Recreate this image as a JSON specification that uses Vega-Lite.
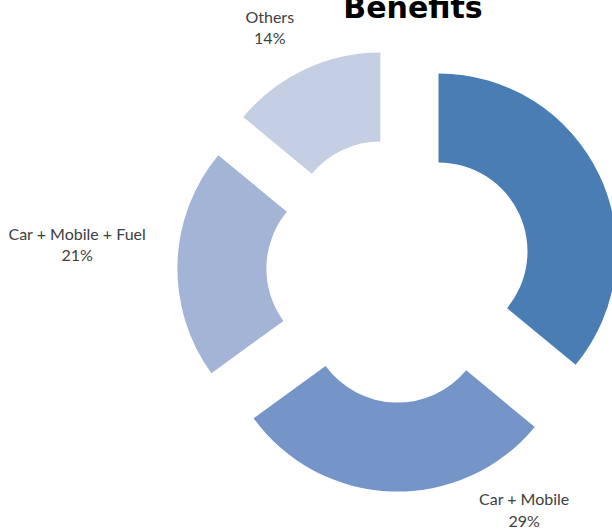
{
  "$schema": "https://vega.github.io/schema/vega-lite/v6.json",
  "width": 400,
  "height": 400,
  "autosize": {"type": "none"},
  "padding": {"left": 199, "top": 70, "right": 13, "bottom": 59},
  "background": "white",
  "data": {"values": [
    {"name": "Car", "share": 0.36, "order": 1},
    {"name": "Car + Mobile", "share": 0.29, "order": 2},
    {"name": "Car + Mobile + Fuel", "share": 0.21, "order": 3},
    {"name": "Others", "share": 0.14, "order": 4}
  ]},
  "config": {"view": {"stroke": null}},
  "layer": [
    {
      "transform": [{"stack": "share", "groupby": [], "sort": [{"field": "order"}], "as": ["t0", "t1"]}, {"filter": "datum.name === 'Car'"}],
      "mark": {"type": "arc", "outerRadius": 178, "innerRadius": 89, "xOffset": 39.5, "yOffset": -18.6},
      "encoding": {
        "theta": {"field": "t0", "type": "quantitative", "scale": {"domain": [0, 1]}},
        "theta2": {"field": "t1"},
        "color": {"field": "name", "type": "nominal", "legend": null, "scale": {"domain": ["Car", "Car + Mobile", "Car + Mobile + Fuel", "Others"], "range": ["#4A7DB4", "#7594C7", "#A3B4D6", "#C5CFE4"]}}
      }
    },
    {
      "transform": [{"stack": "share", "groupby": [], "sort": [{"field": "order"}], "as": ["t0", "t1"]}, {"filter": "datum.name === 'Car + Mobile'"}],
      "mark": {"type": "arc", "outerRadius": 178, "innerRadius": 89, "xOffset": -1.4, "yOffset": 43.6},
      "encoding": {
        "theta": {"field": "t0", "type": "quantitative", "scale": {"domain": [0, 1]}},
        "theta2": {"field": "t1"},
        "color": {"field": "name", "type": "nominal", "legend": null}
      }
    },
    {
      "transform": [{"stack": "share", "groupby": [], "sort": [{"field": "order"}], "as": ["t0", "t1"]}, {"filter": "datum.name === 'Car + Mobile + Fuel'"}],
      "mark": {"type": "arc", "outerRadius": 178, "innerRadius": 89, "xOffset": -43.6, "yOffset": -1.4},
      "encoding": {
        "theta": {"field": "t0", "type": "quantitative", "scale": {"domain": [0, 1]}},
        "theta2": {"field": "t1"},
        "color": {"field": "name", "type": "nominal", "legend": null}
      }
    },
    {
      "transform": [{"stack": "share", "groupby": [], "sort": [{"field": "order"}], "as": ["t0", "t1"]}, {"filter": "datum.name === 'Others'"}],
      "mark": {"type": "arc", "outerRadius": 178, "innerRadius": 89, "xOffset": -18.6, "yOffset": -39.5},
      "encoding": {
        "theta": {"field": "t0", "type": "quantitative", "scale": {"domain": [0, 1]}},
        "theta2": {"field": "t1"},
        "color": {"field": "name", "type": "nominal", "legend": null}
      }
    },
    {
      "mark": {"type": "text", "radius": 273, "dx": -13, "dy": -5, "font": "Lato", "fontSize": 16, "color": "#404040", "align": "center", "baseline": "middle"},
      "encoding": {
        "theta": {"field": "share", "type": "quantitative", "stack": true},
        "order": {"field": "order"},
        "text": {"condition": {"test": "datum.name === 'Others'", "field": "name"}, "value": ""}
      }
    },
    {
      "mark": {"type": "text", "radius": 273, "dx": -13, "dy": 16, "font": "Lato", "fontSize": 16, "color": "#404040", "align": "center", "baseline": "middle"},
      "encoding": {
        "theta": {"field": "share", "type": "quantitative", "stack": true},
        "order": {"field": "order"},
        "text": {"condition": {"test": "datum.name === 'Others'", "field": "share", "type": "quantitative", "format": ".0%"}, "value": ""}
      }
    },
    {
      "mark": {"type": "text", "radius": 322, "dx": 0, "dy": -25, "font": "Lato", "fontSize": 16, "color": "#404040", "align": "center", "baseline": "middle"},
      "encoding": {
        "theta": {"field": "share", "type": "quantitative", "stack": true},
        "order": {"field": "order"},
        "text": {"condition": {"test": "datum.name === 'Car + Mobile + Fuel'", "field": "name"}, "value": ""}
      }
    },
    {
      "mark": {"type": "text", "radius": 322, "dx": 0, "dy": -4, "font": "Lato", "fontSize": 16, "color": "#404040", "align": "center", "baseline": "middle"},
      "encoding": {
        "theta": {"field": "share", "type": "quantitative", "stack": true},
        "order": {"field": "order"},
        "text": {"condition": {"test": "datum.name === 'Car + Mobile + Fuel'", "field": "share", "type": "quantitative", "format": ".0%"}, "value": ""}
      }
    },
    {
      "mark": {"type": "text", "radius": 250, "dx": 133, "dy": -20, "font": "Lato", "fontSize": 16, "color": "#404040", "align": "center", "baseline": "middle"},
      "encoding": {
        "theta": {"field": "share", "type": "quantitative", "stack": true},
        "order": {"field": "order"},
        "text": {"condition": {"test": "datum.name === 'Car + Mobile'", "field": "name"}, "value": ""}
      }
    },
    {
      "mark": {"type": "text", "radius": 250, "dx": 133, "dy": 2, "font": "Lato", "fontSize": 16, "color": "#404040", "align": "center", "baseline": "middle"},
      "encoding": {
        "theta": {"field": "share", "type": "quantitative", "stack": true},
        "order": {"field": "order"},
        "text": {"condition": {"test": "datum.name === 'Car + Mobile'", "field": "share", "type": "quantitative", "format": ".0%"}, "value": ""}
      }
    },
    {
      "data": {"values": [{"title": "Benefits"}]},
      "mark": {"type": "text", "font": "DejaVu Sans", "fontSize": 30, "fontWeight": "bold", "color": "black", "align": "center", "baseline": "alphabetic", "dx": 14, "dy": -252},
      "encoding": {
        "text": {"field": "title", "type": "nominal"}
      }
    }
  ]
}
